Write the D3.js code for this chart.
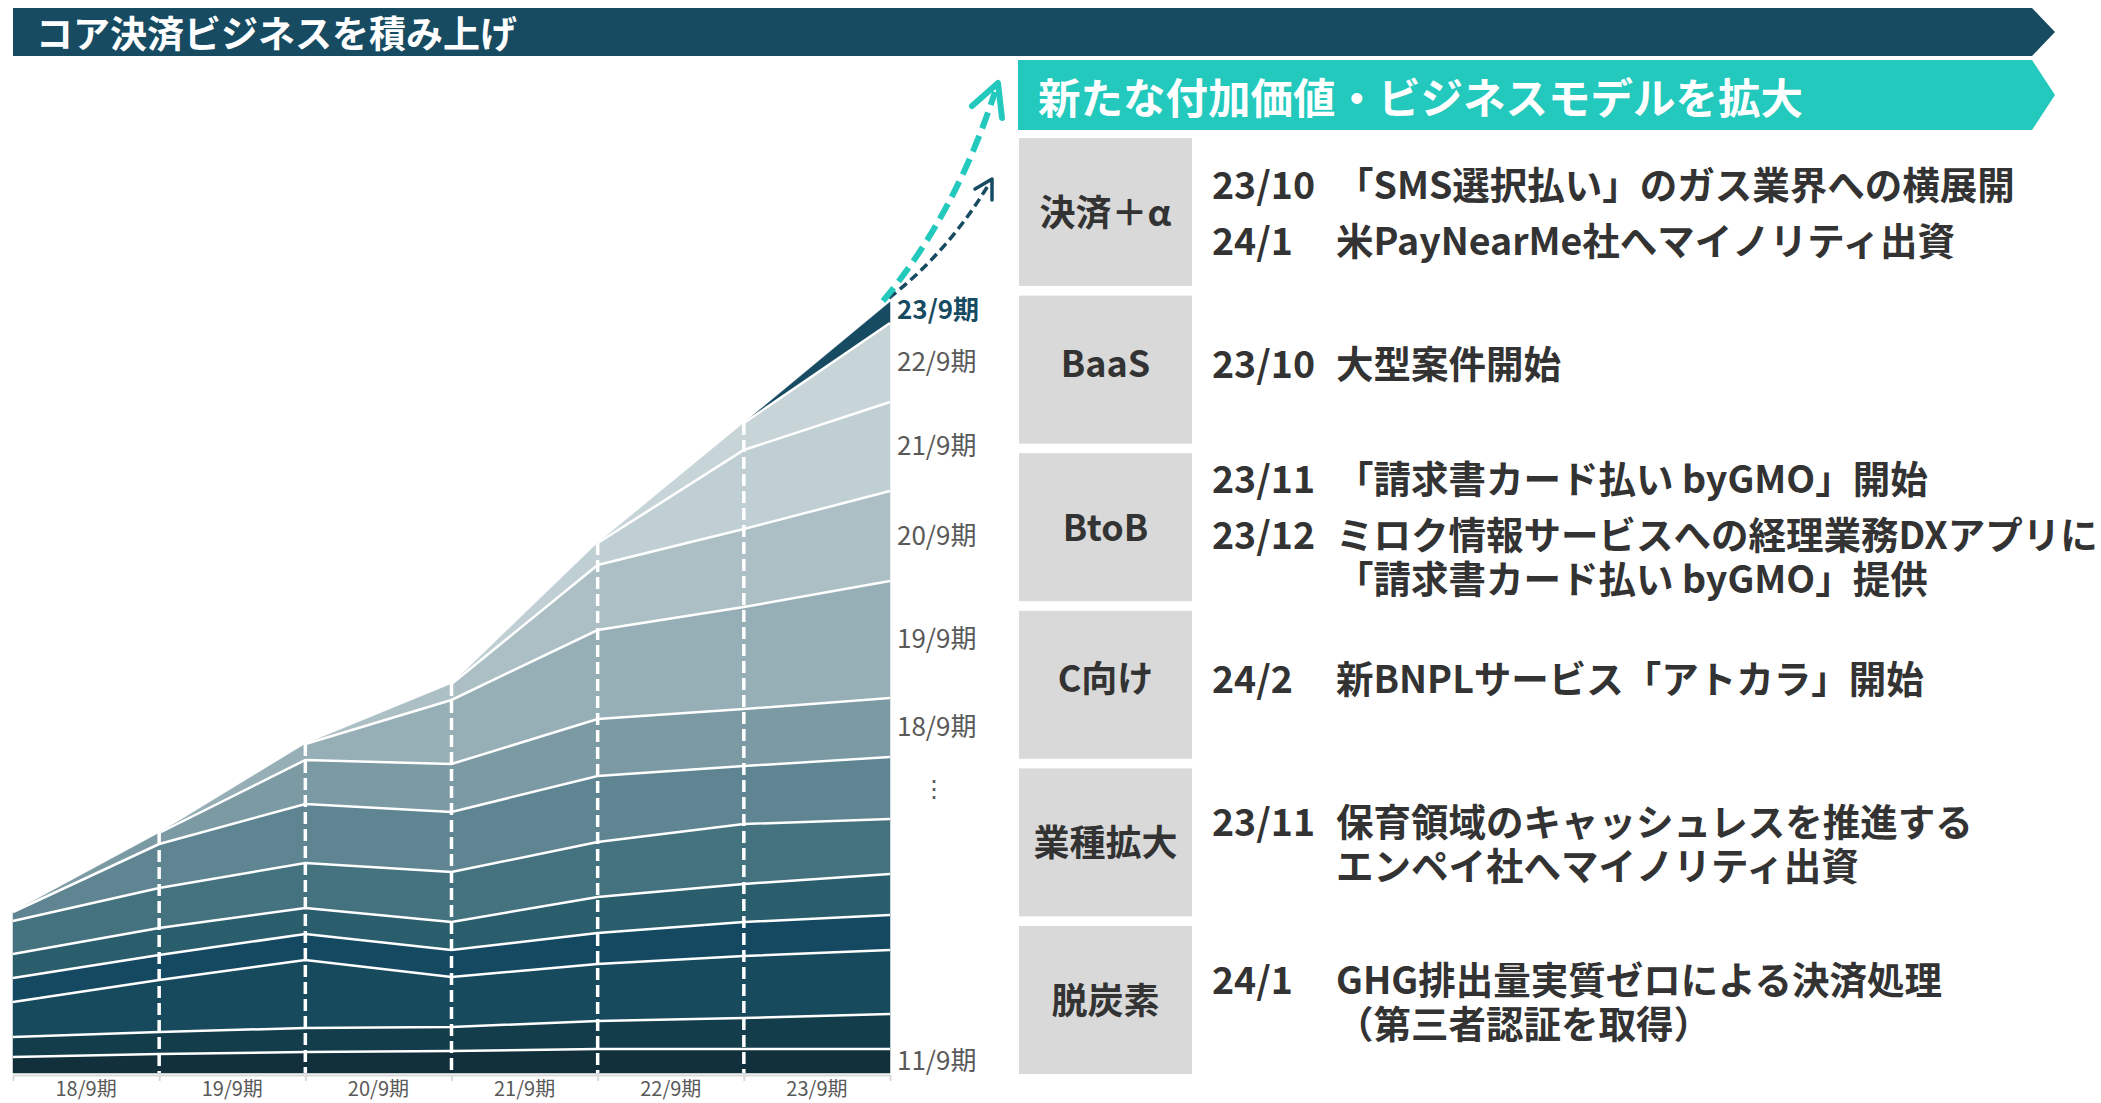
<!DOCTYPE html>
<html><head><meta charset="utf-8">
<script src="https://cdn.jsdelivr.net/npm/d3@7/dist/d3.min.js"></script>
<style>
body{margin:0;background:#fff;}
svg{display:block;}
text{font-family:"Noto Sans CJK JP","Noto Sans",sans-serif;}
</style>
</head><body>
<svg id="c" width="2101" height="1103"></svg>
<script>
// ---------- data ----------
const periods = ["18/9期","19/9期","20/9期","21/9期","22/9期","23/9期"];
const pointIdx = [0,1,2,3,4,5,6];
const cohorts = ["11/9期","12/9期","13/9期","14/9期","15/9期","16/9期","17/9期","18/9期","19/9期","20/9期","21/9期","22/9期","23/9期"];
const c11 = [16,19,21,22,24,24,24];
const c12 = [20,22,24,24,28,31,35];
const c13 = [35,52,68,50,57,62,64];
const c14 = [24,25,26,27,31,34,35];
const c15 = [24,27,26,28,36,38,41];
const c16 = [33,40,45,50,55,60,55];
const c17 = [9,44,59,60,66,58,62];
const c18 = [0,11,44,48,57,57,59];
const c19 = [null,0,16,64,89,102,117];
const c20 = [null,null,0,16,65,78,90];
const c21 = [null,null,null,0,22,79,89];
const c22 = [null,null,null,null,0,27,79];
const c23 = [null,null,null,null,null,0,21];
const cohortValues = [c11,c12,c13,c14,c15,c16,c17,c18,c19,c20,c21,c22,c23];
const labelledCohorts = ["23/9期","22/9期","21/9期","20/9期","19/9期","18/9期","11/9期"];
const ellipsisCohort = "17/9期";
const highlightCohort = "23/9期";

const headerTitle = "コア決済ビジネスを積み上げ";
const subTitle = "新たな付加価値・ビジネスモデルを拡大";
const categories = ["決済＋α","BaaS","BtoB","C向け","業種拡大","脱炭素"];
const eventsPay = [{date:"23/10", lines:["「SMS選択払い」のガス業界への横展開"]},{date:"24/1", lines:["米PayNearMe社へマイノリティ出資"]}];
const eventsBaaS = [{date:"23/10", lines:["大型案件開始"]}];
const eventsBtoB = [{date:"23/11", lines:["「請求書カード払い byGMO」開始"]},{date:"23/12", lines:["ミロク情報サービスへの経理業務DXアプリに","「請求書カード払い byGMO」提供"]}];
const eventsC = [{date:"24/2", lines:["新BNPLサービス「アトカラ」開始"]}];
const eventsInd = [{date:"23/11", lines:["保育領域のキャッシュレスを推進する","エンペイ社へマイノリティ出資"]}];
const eventsGreen = [{date:"24/1", lines:["GHG排出量実質ゼロによる決済処理","（第三者認証を取得）"]}];
const events = [eventsPay,eventsBaaS,eventsBtoB,eventsC,eventsInd,eventsGreen];

// ---------- styles ----------
const cohortColors = ["#12303b","#133d4b","#174a5c","#154961","#2b5e6d","#44727e","#5e8591","#7b9aa4","#96aeb6","#acbfc5","#c0cfd4","#c7d4d8","#174b62"];
const DARK = "#174b62", TEAL = "#22c9bc", TXT = "#333333", GRAY = "#595959";

const svg = d3.select("#c");

// ---------- chart ----------
const x = d3.scaleLinear().domain([0,6]).range([13,890]);
const band = d3.scaleBand().domain(periods).range([13,890]).padding(0);
const y = d3.scaleLinear().domain([0,800]).range([1073,273]);

const table = pointIdx.map(i => {
  const o = {i};
  cohorts.forEach((c,k) => o[c] = cohortValues[k][i] == null ? 0 : cohortValues[k][i]);
  return o;
});
const series = d3.stack().keys(cohorts)(table);

const gChart = svg.append("g");
series.forEach((s,k) => {
  const vals = cohortValues[k];
  const area = d3.area()
    .defined(d => vals[d.data.i] != null)
    .x(d => x(d.data.i)).y0(d => y(d[0])).y1(d => y(d[1]));
  gChart.append("path").datum(s).attr("d", area).attr("fill", cohortColors[k]).attr("stroke", cohortColors[k]).attr("stroke-width", 0.5);
});
series.forEach((s,k) => {
  if (k === 0) return;
  const vals = cohortValues[k];
  const line = d3.line()
    .defined(d => vals[d.data.i] != null)
    .x(d => x(d.data.i)).y(d => y(d[0]));
  gChart.append("path").datum(s).attr("d", line).attr("fill","none").attr("stroke","#fff").attr("stroke-width",2.5);
});
const topSeries = series[series.length-1];
pointIdx.slice(1,-1).forEach(i => {
  gChart.append("line").attr("x1", x(i)).attr("x2", x(i))
    .attr("y1", y(topSeries[i][1])).attr("y2", y(0))
    .attr("stroke","#fff").attr("stroke-width",3.5).attr("stroke-dasharray","12,5");
});

// axis
const gTicks = svg.append("g").attr("transform","translate(0,1075)")
  .call(d3.axisBottom(x).tickValues(pointIdx).tickSize(6).tickSizeOuter(0).tickFormat(""));
gTicks.select(".domain").attr("stroke","#d9d9d9").attr("stroke-width",2);
gTicks.selectAll(".tick line").attr("stroke","#d9d9d9").attr("stroke-width",2);
const gAxis = svg.append("g").attr("transform","translate(0,1075)")
  .call(d3.axisBottom(band).tickSize(0).tickPadding(7));
gAxis.select(".domain").remove();
gAxis.selectAll("text").attr("font-size",20).attr("fill",GRAY).attr("font-family",'"Noto Sans CJK JP",sans-serif');

// right labels
const last = pointIdx[pointIdx.length-1];
labelledCohorts.forEach(c => {
  const s = series[cohorts.indexOf(c)][last];
  const hl = c === highlightCohort;
  svg.append("text").attr("x", 897).attr("y", (y(s[0])+y(s[1]))/2 - (hl ? 5 : 3))
    .attr("dominant-baseline","central").attr("font-size",26)
    .attr("font-weight", hl ? 700 : 400).attr("fill", hl ? DARK : GRAY).text(c);
});
{
  const s = series[cohorts.indexOf(ellipsisCohort)][last];
  svg.append("text").attr("x", 934).attr("y", (y(s[0])+y(s[1]))/2 - 2)
    .attr("dominant-baseline","central").attr("text-anchor","middle")
    .attr("font-size",24).attr("fill",GRAY).text("⋮");
}

// growth arrows
svg.append("path").attr("d","M889,298 Q948,252 989,184").attr("fill","none")
  .attr("stroke",DARK).attr("stroke-width",3.5).attr("stroke-dasharray","9,5");
svg.append("polyline").attr("points","975,189 992,179 992,200").attr("fill","none")
  .attr("stroke",DARK).attr("stroke-width",3.5).attr("stroke-linecap","round").attr("stroke-linejoin","round");
svg.append("path").attr("d","M883,301 Q955,215 995,92").attr("fill","none")
  .attr("stroke",TEAL).attr("stroke-width",6).attr("stroke-dasharray","17,8");
svg.append("polyline").attr("points","972,106 998,83 1002,118").attr("fill","none")
  .attr("stroke",TEAL).attr("stroke-width",6).attr("stroke-linecap","round").attr("stroke-linejoin","round");

// ---------- banners ----------
svg.append("path").attr("d","M13,8 H2032 L2055,32 L2032,56 H13 Z").attr("fill",DARK);
svg.append("text").attr("x",36).attr("y",32).attr("dominant-baseline","central")
  .attr("font-size",37).attr("font-weight",700).attr("fill","#fff").text(headerTitle);
svg.append("path").attr("d","M1018,60 H2032 L2055,95 L2032,130 H1018 Z").attr("fill",TEAL);
svg.append("text").attr("x",1038).attr("y",95).attr("dominant-baseline","central")
  .attr("font-size",42.5).attr("font-weight",700).attr("fill","#fff").text(subTitle);

// ---------- category boxes ----------
const boxY = d3.scaleBand().domain(categories).range([138,1074]).paddingInner(0.061).paddingOuter(0);
const gBox = svg.append("g");
categories.forEach((cat,bi) => {
  const top = boxY(cat), h = boxY.bandwidth();
  const rows = []; let yy = 0;
  events[bi].forEach((e,ei) => {
    if (ei > 0) yy += 56;
    e.lines.forEach((ln,li) => {
      if (li > 0) yy += 44;
      rows.push({date: li === 0 ? e.date : null, text: ln, y: yy});
    });
  });
  const cy = top + h/2 + (rows.length === 1 ? -9 : -2);
  gBox.append("rect").attr("x",1019).attr("y",top).attr("width",173).attr("height",h).attr("fill","#d9d9d9");
  gBox.append("text").attr("x",1105.5).attr("y",cy).attr("text-anchor","middle").attr("dominant-baseline","central")
    .attr("font-size",36).attr("font-weight",700).attr("fill",TXT).text(cat);
  const off = cy + 1 - yy/2;
  rows.forEach(r => {
    if (r.date) gBox.append("text").attr("x",1212).attr("y",off + r.y).attr("dominant-baseline","central")
      .attr("font-size",37.5).attr("font-weight",700).attr("fill",TXT).text(r.date);
    gBox.append("text").attr("x",1336).attr("y",off + r.y).attr("dominant-baseline","central")
      .attr("font-size",37.5).attr("font-weight",700).attr("fill",TXT).text(r.text);
  });
});
</script>
</body></html>
